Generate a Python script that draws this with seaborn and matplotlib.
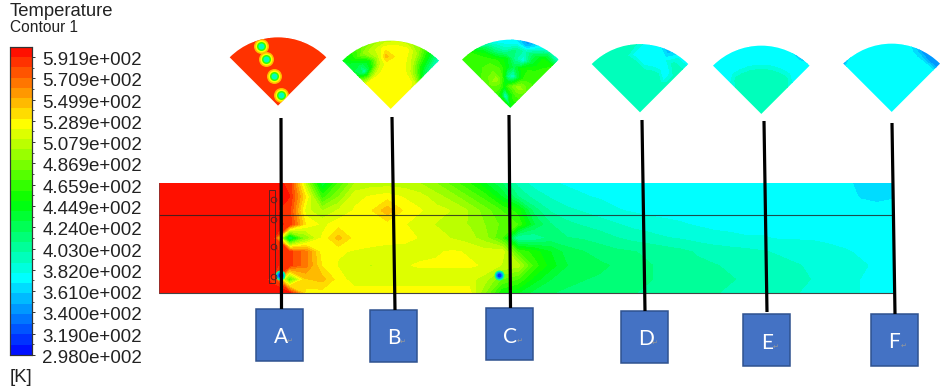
import numpy as np
import matplotlib
matplotlib.use("Agg")
import matplotlib.pyplot as plt
from matplotlib.colors import LinearSegmentedColormap, ListedColormap
from matplotlib.patches import Rectangle, Circle
from matplotlib.transforms import ScaledTranslation
import seaborn as sns

sns.set_theme(style="white")
plt.rcParams['font.family'] = ['Liberation Sans', 'DejaVu Sans']

# temperature scale
t_min, t_max = 298, 602
tick_values = [591.9, 570.9, 549.9, 528.9, 507.9, 486.9, 465.9, 444.9, 424.0, 403.0, 382.0, 361.0, 340.0, 319.0, 298.0]
tick_labels = ['5.919e+002', '5.709e+002', '5.499e+002', '5.289e+002', '5.079e+002',
               '4.869e+002', '4.659e+002', '4.449e+002', '4.240e+002', '4.030e+002',
               '3.820e+002', '3.610e+002', '3.400e+002', '3.190e+002', '2.980e+002']
n_bands = 30

# side view of the chamber, top row to bottom row, left to right
side_view = [
    [595]*8 + [590,505,430,470,500,505,505,505,500,490,475,460,440,420,395,385,380,378,376,375,374,374,374,374,374,374,374,374,374,374,374,374,374,374,372,366,364,366],
    [595]*8 + [592,530,465,490,518,522,526,520,515,505,495,480,465,440,410,395,388,382,380,378,376,375,374,374,374,374,374,374,374,374,374,374,374,374,374,368,366,368],
    [595]*8 + [585,515,500,512,522,530,548,530,522,515,510,500,485,470,455,415,398,392,388,384,380,378,376,375,375,374,374,374,374,374,374,374,374,374,374,374,373,373],
    [595]*8 + [590,530,518,526,525,526,526,522,515,510,505,500,490,478,470,430,410,402,398,394,390,386,384,382,380,378,376,375,375,375,375,375,375,375,375,374,374,374],
    [595]*8 + [415,490,522,545,526,526,526,525,520,515,510,505,495,470,395,400,412,410,408,405,400,396,393,390,388,385,383,382,380,380,378,378,378,377,376,376,375,374],
    [595]*8 + [585,565,525,522,520,518,515,515,518,520,522,520,515,520,470,455,440,425,420,415,412,410,408,405,402,398,395,393,392,390,388,386,384,382,380,378,376,375],
    [595]*8 + [585,565,530,520,515,510,515,520,522,522,522,522,520,510,505,465,445,430,425,422,418,414,410,408,405,402,400,398,396,394,392,390,388,385,382,380,378,377],
    [595]*7 + [590,470,540,545,526,515,515,515,515,515,515,515,515,505,480,470,445,430,422,420,418,416,412,410,408,406,404,402,400,398,396,394,392,389,385,381,379,378,378],
    [595]*9 + [526,526,526,526,526,526,526,526,526,526,526,490,450,440,425,420,418,416,414,412,410,408,406,404,402,400,398,396,394,392,390,386,382,380,379,378,378],
]
# small cold spots in the side view, in grid columns and rows
cold_col = [7.6, 21.3]
cold_row = [7.55, 7.55]
cold_values = [400, 340, 312]
cold_widths = [10, 7, 4]

# fan cross sections, rows go from the apex to the arc, columns from left to right
fan_theta = [-45, -35, -25, -15, -5, 5, 15, 25, 35, 45]
fan_a_r = [0, 1]
fan_a = [[585]*10, [585]*10]
fan_b_r = [0, .25, .5, .62, .67, .77, .9, 1]
fan_b = [
    [526]*10,
    [526]*10,
    [526,526,526,526,526,526,526,526,522,518],
    [470,435,480,515,526,526,526,515,490,455],
    [445,395,450,505,526,526,526,512,475,430],
    [430,420,445,500,545,530,526,505,455,410],
    [430,460,495,510,526,526,526,500,450,395],
    [440,460,480,495,505,510,505,490,445,385],
]
fan_c_r = [0, .19, .32, .46, .6, .72, .85, .94, 1]
fan_c = [
    [445]*10,
    [455,430,385,400,440,455,465,470,470,470],
    [470,470,465,445,470,480,490,495,490,480],
    [475,490,495,470,405,385,430,465,470,470],
    [470,475,480,470,445,425,450,460,465,470],
    [470,470,470,460,445,405,378,435,455,470],
    [470,470,455,415,395,410,395,425,455,460],
    [470,465,435,395,378,378,350,385,425,410],
    [470,455,410,378,370,368,340,370,395,385],
]
fan_d_r = [0, .5, .6, .72, .85, 1]
fan_d = [
    [394]*10,
    [394]*10,
    [394,394,394,394,394,394,394,394,374,394],
    [394,394,394,394,394,374,374,374,374,394],
    [394,394,394,394,374,374,374,374,394,394],
    [394,394,394,394,394,374,374,350,374,374],
]
fan_e_r = [0, .5, .62, .75, .95, 1]
fan_e = [
    [394]*10,
    [394]*10,
    [380,394,394,394,394,394,394,394,394,380],
    [374]*10,
    [374]*10,
    [374,374,374,374,374,374,374,374,350,374],
]
fan_f_r = [0, .85, .93, 1]
fan_f = [
    [374]*10,
    [374]*10,
    [374,374,374,374,374,374,374,362,346,346],
    [346,374,374,374,374,374,374,346,346,346],
]

# burner spots seen in fan A, and the rings around each spot
spot_theta = [-16, -13.8, -7.5, 16.9]
spot_r = [.905, .71, .44, .167]
ring_values = [545, 526, 470, 392]
ring_widths = [15, 12, 9, 6]

# label boxes
box_labels = ['A', 'B', 'C', 'D', 'E', 'F']
box_left = [255.6, 369.5, 486, 621, 743, 871]
box_top = [309, 310, 308, 311, 314, 314]
label_x = [280.6, 394, 510.5, 646, 767, 894.5]
label_y = [337, 338, 337, 339, 343, 342]
stem_top_x = [281, 392, 509, 642, 764, 892]
stem_top_y = [118, 117, 115, 120, 121, 123]
stem_bot_x = [281.5, 395, 510.5, 645, 767, 895]
stem_bot_y = [309, 310, 308, 311, 312, 314]

W, H = 940, 389
base = LinearSegmentedColormap.from_list(
    'fluent', ['#0000ff', '#00ffff', '#00ff00', '#ffff00', '#ff0000'], N=512)
cmap = ListedColormap([base((k + .5) / n_bands) for k in range(n_bands)])
edges = np.linspace(t_min, t_max, n_bands + 1)


def px_axes(x0, y0, x1, y1, **kw):
    return fig.add_axes([x0 / W, 1 - y1 / H, (x1 - x0) / W, (y1 - y0) / H], **kw)


def band_color(val):
    return cmap((val - t_min) / (t_max - t_min))


fig = plt.figure(figsize=(W / 100, H / 100), dpi=100)

# main contour and colour bar
ax = px_axes(159, 183, 893, 293)
cax = px_axes(10, 46.7, 32, 355)
side = np.array(side_view, dtype=float)
sns.heatmap(side, ax=ax, cmap=cmap, vmin=t_min, vmax=t_max, cbar=True, cbar_ax=cax,
            xticklabels=False, yticklabels=False)
xs = np.linspace(0, side.shape[1], side.shape[1])
ys = np.linspace(0, side.shape[0], side.shape[0])
ax.contourf(xs, ys, side, levels=edges, cmap=cmap, vmin=t_min, vmax=t_max)
for val, width in zip(cold_values, cold_widths):
    sns.scatterplot(x=cold_col, y=cold_row, ax=ax, s=(width * 0.72) ** 2,
                    color=band_color(val), linewidth=0, legend=False)
ax.set_xlabel('')
ax.set_ylabel('')

cax.set_yticks(tick_values)
cax.set_yticklabels(tick_labels, fontsize=13.5, color='#222222')
cax.tick_params(axis='y', length=2.5, width=0.7, pad=5, left=False, right=True, color='#333333')
cax.set_yticks(np.array(tick_values[:-1]) - 10.5, minor=True)
cax.tick_params(axis='y', which='minor', length=1.5, width=0.6, right=True, color='#333333')
shift = ScaledTranslation(0, -1.5 / 100, fig.dpi_scale_trans)
for lab in cax.get_yticklabels():
    lab.set_transform(lab.get_transform() + shift)
for sp in cax.spines.values():
    sp.set_visible(True)
    sp.set_color('#333333')
    sp.set_linewidth(0.8)

# fan cross sections, the polar wedge only fills part of its box
fan_apex_x = [278, 390.7, 510.3, 640, 761.3, 891.7]
fan_apex_y = [106, 109.3, 108.3, 112.7, 114.3, 112.3]
fan_rows = [fan_a_r, fan_b_r, fan_c_r, fan_d_r, fan_e_r, fan_f_r]
fan_vals = [fan_a, fan_b, fan_c, fan_d, fan_e, fan_f]
fan_axes = []
grow = 1.4
for ax_x, ax_y, rows, vals in zip(fan_apex_x, fan_apex_y, fan_rows, fan_vals):
    cy = ax_y - 34.5
    fa = px_axes(ax_x - 48.8 * grow, cy - 34.5 * grow, ax_x + 48.8 * grow, cy + 34.5 * grow,
                 projection='polar')
    fa.set_theta_zero_location('N')
    fa.set_theta_direction(-1)
    fa.set_thetalim(np.radians(-45), np.radians(45))
    fa.set_ylim(0, 1)
    fa.contourf(np.radians(fan_theta), rows, np.array(vals, dtype=float),
                levels=edges, cmap=cmap, vmin=t_min, vmax=t_max)
    fa.axis('off')
    fan_axes.append(fa)

# rings round the burners
for val, width in zip(ring_values, ring_widths):
    sns.scatterplot(x=np.radians(spot_theta), y=spot_r, ax=fan_axes[0], s=(width * 0.72) ** 2,
                    color=band_color(val), linewidth=0, legend=False)
fan_axes[0].axis('off')

# overlay for annotation, in picture pixels
ov = fig.add_axes([0, 0, 1, 1], facecolor='none')
ov.set_xlim(0, W)
ov.set_ylim(H, 0)
ov.axis('off')

ov.plot([159, 893], [215, 215], color='#222222', lw=0.8, alpha=0.8)
ov.plot([159, 893], [293, 293], color='#444444', lw=0.8)
ov.plot([159, 159], [183, 293], color='#883333', lw=0.6)
ov.add_patch(Rectangle((269, 190), 6, 93, fill=False, ec='#552222', lw=0.7))
for cy in [200, 220, 247, 277]:
    ov.add_patch(Circle((274, cy), 2.8, fill=False, ec='#552222', lw=0.7))

for i, name in enumerate(box_labels):
    ov.plot([stem_top_x[i], stem_bot_x[i]], [stem_top_y[i], stem_bot_y[i]], color='black',
            lw=2.3, solid_capstyle='butt')
    ov.add_patch(Rectangle((box_left[i], box_top[i]), 47.3, 52, fc='#4472c4', ec='#2f528f', lw=1.1))
    ov.text(label_x[i], label_y[i], name, color='white', fontsize=15, family='Lato',
            ha='center', va='center')
    ov.text(label_x[i] + 9, label_y[i] + 4, '↵', color='#999999', fontsize=5,
            family='DejaVu Sans', ha='center', va='center')

ov.text(10, 11, 'Temperature', fontsize=13.3, color='#222222', ha='left', va='center')
ov.text(10, 27, 'Contour 1', fontsize=11.2, color='#222222', ha='left', va='center')
ov.text(10, 377, '[K]', fontsize=13.3, color='#222222', ha='left', va='center')

fig.savefig('out.png', dpi=100)
